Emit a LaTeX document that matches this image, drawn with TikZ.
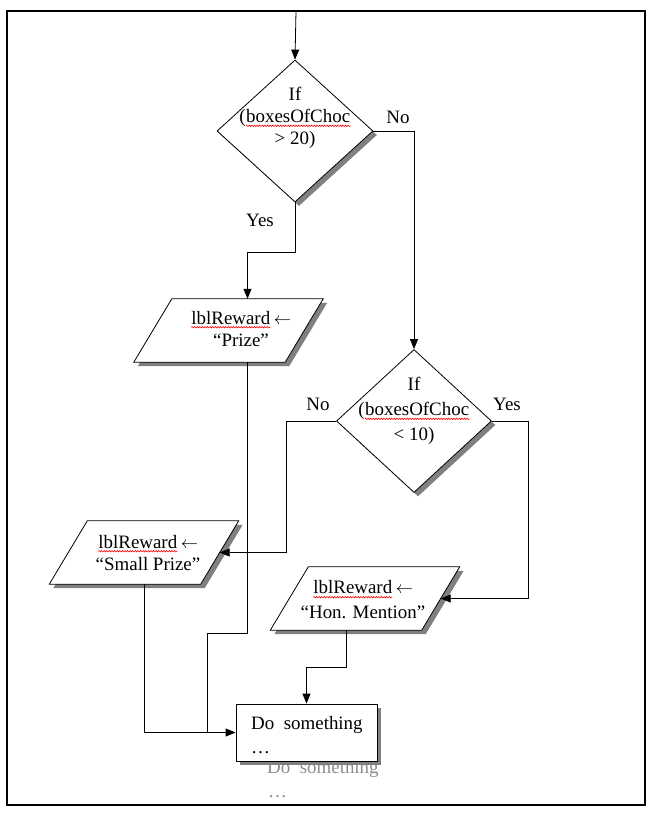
\documentclass[tikz,border=0pt]{standalone}
\usepackage{fontspec}
\setmainfont{Liberation Serif}
\usetikzlibrary{shapes.geometric,arrows.meta,shadows,decorations.pathmorphing}
\newcommand\spellwave[1]{\tikz[baseline=(w.base)]{\node[inner sep=0pt] (w) {#1};
  \draw[red, line width=0.6bp, decorate, decoration={snake, amplitude=0.7bp, segment length=2.6bp}]
    ([yshift=-3.2bp]w.base west) -- ([yshift=-3.2bp]w.base east);}}
\newcommand\larr{\,$\leftarrow$}
\begin{document}
\begin{tikzpicture}[x=1bp,y=-1bp,
  every node/.style={font=\fontsize{19}{23}\selectfont},
  shadowed/.style={drop shadow={shadow xshift=4bp,shadow yshift=-4bp,fill=black!50,opacity=1}},
  decision/.style={diamond, draw, line width=0.8bp, fill=white, inner sep=0pt, shadowed},
  io/.style={rectangle, minimum width=151bp, minimum height=63bp, inner sep=0pt},
  ioshape/.style={draw, line width=0.8bp, fill=white, shadowed},
  process/.style={rectangle, draw, line width=0.8bp, fill=white,
    minimum width=141bp, minimum height=57bp, inner sep=0pt, shadowed},
  txt/.style={align=center, inner sep=0pt},
  ghost/.style={inner sep=0pt, text=black!45, anchor=base west},
  conn/.style={draw, line width=0.8bp},
  arr/.style={conn, -{Triangle[length=10bp,width=8bp]}}]
\useasboundingbox (0,0) rectangle (650,814);
\draw[line width=2bp] (7,11) rectangle (645,805);
\coordinate (start) at (296,11);

% ghost text behind the process box
\node[ghost] (g1) at (267,773) {Do\ \ something};
\node[ghost] (g2) at (268,797) {\dots};

% shapes
\node[decision, minimum width=156bp, minimum height=142bp] (d1) at (295,131) {};
\node[decision, minimum width=155bp, minimum height=143bp] (d2) at (414,421) {};
\node[io] (p1) at (228.5,330.5) {};
\node[io] (p2) at (144,552.5) {};
\node[io] (p3) at (365,598.5) {};
\foreach \n in {p1,p2,p3}
  \path[ioshape] ([xshift=19bp]\n.north west) -- ([xshift=19bp]\n.north east)
    -- ([xshift=-19bp]\n.south east) -- ([xshift=-19bp]\n.south west) -- cycle;
\node[process] (box) at (306.5,732.5) {};

% edge midpoints of the parallelograms
\coordinate (p1top) at ([xshift=19bp]p1.north);
\coordinate (p1bot) at ([xshift=19bp]p1.south);
\coordinate (p3bot) at ([xshift=-19bp]p3.south);

% texts
\node[txt, font=\fontsize{19}{22}\selectfont] (t1) at (295,118) {If\\(\spellwave{boxesOfChoc}\\> 20)};
\node[txt, font=\fontsize{19}{25}\selectfont] (t2) at (414,411) {If\\(\spellwave{boxesOfChoc}\\< 10)};
\node[txt] (t3) at (241,329) {\spellwave{lblReward}\larr\\“Prize”};
\node[txt] (t4) at (148,553) {\spellwave{lblReward}\larr\\“Small Prize”};
\node[txt, font=\fontsize{19}{25}\selectfont] (t5) at (363,600) {\spellwave{lblReward}\larr\\“Hon. Mention”};
\node[inner sep=0pt, anchor=base west] (t6) at (251,729) {Do\ \ something};
\node[inner sep=0pt, anchor=base west] (t7) at (251,753) {\dots};

\node[txt] (no1) at (398,117) {No};
\node[txt] (yes1) at (260,220) {Yes};
\node[txt] (no2) at (318,404) {No};
\node[txt] (yes2) at (507,404) {Yes};

% connectors
\draw[arr] (start) -- (d1.north);
\draw[arr] (d1.east) -| (d2.north);
\draw[arr] (d1.south) -- ++(0,50) -| (p1top);
\draw[arr] (d2.west) -- ++(-50,0) |- (p2.east);
\draw[arr] (d2.east) -- ++(36,0) |- (p3.east);
\draw[conn] (p1bot) |- ([xshift=-28bp,yshift=99bp]box.west) -- ([xshift=-28bp]box.west);
\draw[arr] (p2.south) |- (box.west);
\draw[arr] (p3bot) -- ++(0,37) -| (box.north);
\end{tikzpicture}
\end{document}
